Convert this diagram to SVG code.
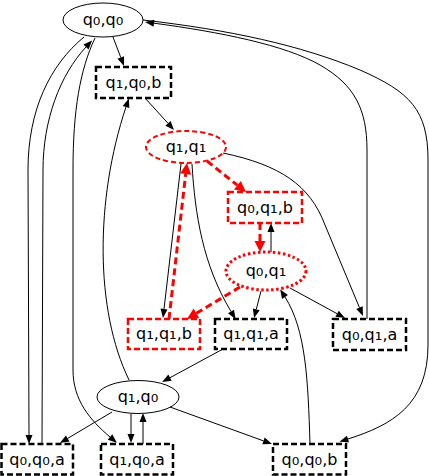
<svg xmlns="http://www.w3.org/2000/svg" width="429" height="476" viewBox="0 0 429 476">
<style>
text{font-family:"DejaVu Sans","Liberation Sans",sans-serif;font-size:16px;fill:#000;text-anchor:middle}
.s{font-size:19px}
.plain{fill:#fff;stroke:#000;stroke-width:1}
.box{fill:#fff;stroke:#000;stroke-width:2.5;stroke-dasharray:6,3}
.rbox{fill:#fff;stroke:#f00;stroke-width:2.5;stroke-dasharray:6,3}
.rdash{fill:#fff;stroke:#f00;stroke-width:2;stroke-dasharray:5,3}
.rdot{fill:#fff;stroke:#f00;stroke-width:3;stroke-dasharray:2.5,2.5}
.e{fill:none;stroke:#000;stroke-width:1;marker-end:url(#ab)}
.r{fill:none;stroke:#f00;stroke-width:3;stroke-dasharray:7,4;marker-end:url(#ar)}
</style>
<defs>
<marker id="ab" markerUnits="userSpaceOnUse" viewBox="0 -5 10 10" markerWidth="10" markerHeight="10" refX="0" refY="0" orient="auto" overflow="visible"><path d="M0,-3.5 L9,0 L0,3.5 z" fill="#000"/></marker>
<marker id="ar" markerUnits="userSpaceOnUse" viewBox="0 -6 12 12" markerWidth="12" markerHeight="12" refX="0" refY="0" orient="auto" overflow="visible"><path d="M0,-5.5 L11,0 L0,5.5 z" fill="#f00"/></marker>
</defs>
<g id="edges">
<path class="e" d="M113,37 L120.8,57.6"/>
<path class="e" d="M145,98 L168,123.3"/>
<path class="r" d="M207,161 L237.4,185.2"/>
<path class="r" d="M260,223 L260,241"/>
<path class="e" d="M271,252 L271,232"/>
<path class="r" d="M240,287 L196.4,313.3"/>
<path class="r" d="M169,319 L185.7,174"/>
<path class="e" d="M181,164 L164,309"/>
<path class="e" d="M192,164 C195,215 203,265 231,311.5"/>
<path class="e" d="M261,291 L256.3,309.3"/>
<path class="e" d="M290,288 L337.1,313.7"/>
<path class="e" d="M223,153 C280,165 310,185 325,225 L359.5,307.7"/>
<path class="e" d="M367,319 L367,150 C367,110 355,85 320,65 C285,45 220,32 154,23.2"/>
<path class="e" d="M143,20 C230,30 300,45 360,70 C410,92 428,110 428,160 L428,345 C428,405 392,425 348,439"/>
<path class="e" d="M310,444 C308,380 306,330 285,297"/>
<path class="e" d="M223,349 L170,377.7"/>
<path class="e" d="M112,412 L67.7,438.4"/>
<path class="e" d="M131,414 L131,434"/>
<path class="e" d="M143,444 L143,422"/>
<path class="e" d="M170,407 L263.5,440.9"/>
<path class="e" d="M129,380 C95,310 95,200 126,107"/>
<path class="e" d="M84,37 C50,65 28,110 28,170 L29,435"/>
<path class="e" d="M42,444 L43,170 C43,120 60,75 86,47"/>
<path class="e" d="M95,38 C80,70 73,110 73,170 L73,370 C73,400 90,420 110,437"/>
</g>
<g id="n_q0q0"><ellipse class="plain" cx="103" cy="20" rx="40" ry="17"/><text x="103" y="25">q<tspan class="s">₀</tspan>,q<tspan class="s">₀</tspan></text></g>
<g id="n_q1q0b"><rect class="box" x="96" y="67" width="75" height="31"/><text x="133.5" y="88">q<tspan class="s">₁</tspan>,q<tspan class="s">₀</tspan>,b</text></g>
<g id="n_q1q1"><ellipse class="rdash" cx="186" cy="147" rx="40" ry="16"/><text x="186" y="152">q<tspan class="s">₁</tspan>,q<tspan class="s">₁</tspan></text></g>
<g id="n_q0q1b"><rect class="rbox" x="228" y="192" width="74" height="31"/><text x="265" y="213">q<tspan class="s">₀</tspan>,q<tspan class="s">₁</tspan>,b</text></g>
<g id="n_q0q1"><ellipse class="rdot" cx="266" cy="271" rx="40" ry="19"/><text x="266" y="276">q<tspan class="s">₀</tspan>,q<tspan class="s">₁</tspan></text></g>
<g id="n_q1q1b"><rect class="rbox" x="128" y="319" width="72" height="30"/><text x="164" y="339">q<tspan class="s">₁</tspan>,q<tspan class="s">₁</tspan>,b</text></g>
<g id="n_q1q1a"><rect class="box" x="215" y="319" width="72" height="30"/><text x="251" y="339">q<tspan class="s">₁</tspan>,q<tspan class="s">₁</tspan>,a</text></g>
<g id="n_q0q1a"><rect class="box" x="333" y="319" width="73" height="31"/><text x="369.5" y="340">q<tspan class="s">₀</tspan>,q<tspan class="s">₁</tspan>,a</text></g>
<g id="n_q1q0"><ellipse class="plain" cx="138" cy="397" rx="41" ry="16.5"/><text x="138" y="402">q<tspan class="s">₁</tspan>,q<tspan class="s">₀</tspan></text></g>
<g id="n_q0q0a"><rect class="box" x="1.5" y="444" width="71.5" height="30.5"/><text x="37" y="465">q<tspan class="s">₀</tspan>,q<tspan class="s">₀</tspan>,a</text></g>
<g id="n_q1q0a"><rect class="box" x="101" y="444" width="72" height="30.5"/><text x="137" y="465">q<tspan class="s">₁</tspan>,q<tspan class="s">₀</tspan>,a</text></g>
<g id="n_q0q0b"><rect class="box" x="273" y="444" width="73" height="30.5"/><text x="309.5" y="465">q<tspan class="s">₀</tspan>,q<tspan class="s">₀</tspan>,b</text></g>
</svg>
